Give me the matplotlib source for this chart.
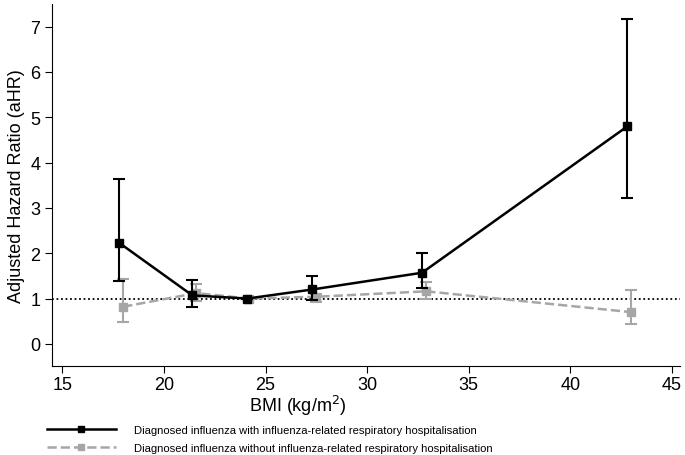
import numpy as np
import matplotlib.pyplot as plt

plt.rcParams['font.family'] = ['Liberation Sans', 'DejaVu Sans']

bmi_hosp = [17.8, 21.4, 24.1, 27.3, 32.7, 42.8]
ahr_hosp = [2.23, 1.07, 1.0, 1.2, 1.57, 4.8]
lo_hosp = [1.38, 0.82, 1.0, 0.97, 1.23, 3.23]
hi_hosp = [3.63, 1.41, 1.0, 1.49, 2.01, 7.17]

bmi_nohosp = [18.0, 21.6, 24.2, 27.5, 32.9, 43.0]
ahr_nohosp = [0.82, 1.12, 1.0, 1.04, 1.16, 0.7]
lo_nohosp = [0.48, 0.95, 1.0, 0.92, 0.99, 0.43]
hi_nohosp = [1.43, 1.33, 1.0, 1.10, 1.37, 1.19]

labels = ['Diagnosed influenza with influenza-related respiratory hospitalisation',
          'Diagnosed influenza without influenza-related respiratory hospitalisation']

fig = plt.figure(figsize=(6.85, 4.56), dpi=100)
ax = fig.add_axes([0.076, 0.195, 0.917, 0.794])

ax.axhline(1, color='black', linestyle=(0, (1, 1.5)), linewidth=1.3, zorder=1)

grey = '#a6a6a6'
a_n = np.array(ahr_nohosp)
h2 = ax.errorbar(bmi_nohosp, ahr_nohosp,
                 yerr=[a_n - np.array(lo_nohosp), np.array(hi_nohosp) - a_n],
                 color=grey, marker='s', markersize=5.5, linestyle='--', linewidth=1.8,
                 capsize=4, elinewidth=1.5, capthick=1.5, zorder=2)
a_h = np.array(ahr_hosp)
h1 = ax.errorbar(bmi_hosp, ahr_hosp,
                 yerr=[a_h - np.array(lo_hosp), np.array(hi_hosp) - a_h],
                 color='black', marker='s', markersize=5.5, linestyle='-', linewidth=1.8,
                 capsize=4, elinewidth=1.5, capthick=1.5, zorder=3)

ax.set_xlim(14.5, 45.4)
ax.set_ylim(-0.49, 7.5)
ax.set_xticks([15, 20, 25, 30, 35, 40, 45])
ax.set_yticks(range(0, 8))
ax.spines['top'].set_visible(False)
ax.spines['right'].set_visible(False)
ax.tick_params(labelsize=13, length=5, direction='out')
ax.tick_params(axis='x', pad=2)
ax.set_xlabel('BMI (kg/m$^2$)', fontsize=13, labelpad=0)
ax.xaxis.label.set_x(0.392)
ax.set_ylabel('Adjusted Hazard Ratio (aHR)', fontsize=13)

fig.legend([h1[0], h2[0]], labels, loc='upper left', bbox_to_anchor=(0.068, 0.066),
           frameon=False, fontsize=8.1, handlelength=6.2, handletextpad=1.6,
           labelspacing=0.75, borderaxespad=0, borderpad=0, markerscale=0.85)

fig.savefig('out.png', dpi=100)
